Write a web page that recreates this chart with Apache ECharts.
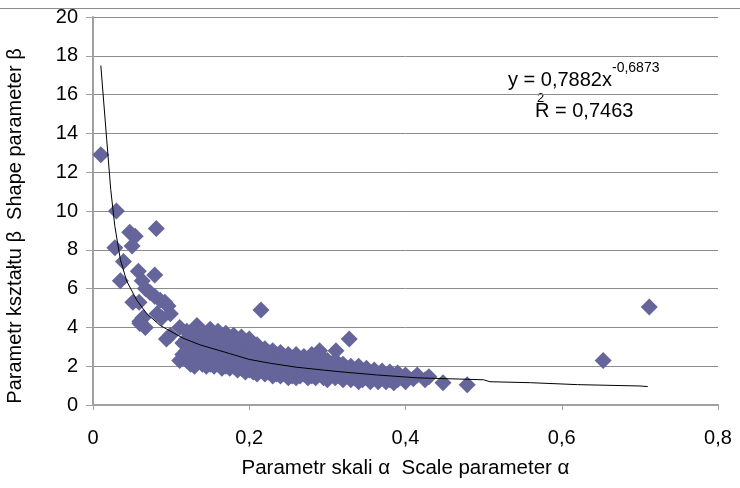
<!DOCTYPE html>
<html>
<head>
<meta charset="utf-8">
<script src="https://cdn.jsdelivr.net/npm/echarts@6/dist/echarts.min.js"></script>
<style>
  html, body { margin: 0; padding: 0; background: #fff; }
  #chart { width: 740px; height: 488px; }
</style>
</head>
<body>
<div id="chart"></div>
<script>
// punkty (alfa, beta)
let points = [
  [0.010,12.9],[0.030,10.0],[0.081,9.1],[0.047,8.9],[0.054,8.7],[0.050,8.2],[0.028,8.1],
  [0.039,7.4],[0.035,6.4],[0.058,6.9],[0.079,6.7],[0.063,6.4],[0.067,6.0],[0.073,5.8],
  [0.051,5.3],[0.059,5.3],[0.092,5.3],[0.086,5.4],[0.079,5.6],[0.099,4.7],[0.060,4.3],
  [0.067,4.0],[0.088,4.5],[0.064,4.5],[0.099,3.6],[0.111,2.3],[0.111,4.0],[0.133,4.1],
  [0.096,5.1],[0.082,4.7],[0.094,3.4],[0.060,4.2],
  [0.115,3.2],[0.115,2.6],
  [0.12,3.8],[0.12,3.4],[0.12,2.8],[0.12,2.3],
  [0.125,3.6],[0.125,3.0],[0.125,2.1],
  [0.13,3.9],[0.13,3.3],[0.13,2.5],[0.13,2.0],
  [0.135,3.7],[0.135,2.9],[0.135,2.3],
  [0.14,3.8],[0.14,3.2],[0.14,2.7],[0.14,2.1],
  [0.145,3.5],[0.145,2.9],[0.145,2.4],[0.145,2.0],
  [0.15,3.9],[0.15,3.3],[0.15,2.6],[0.15,2.1],
  [0.155,3.6],[0.155,3.0],[0.155,2.4],[0.155,2.0],
  [0.16,3.8],[0.16,3.2],[0.16,2.7],[0.16,2.2],
  [0.165,3.5],[0.165,2.9],[0.165,2.3],[0.165,1.9],
  [0.17,3.7],[0.17,3.1],[0.17,2.6],[0.17,2.0],
  [0.175,3.4],[0.175,2.8],[0.175,2.2],[0.175,1.9],
  [0.18,3.6],[0.18,3.0],[0.18,2.5],[0.18,2.0],
  [0.185,3.3],[0.185,2.7],[0.185,2.1],[0.185,1.8],
  [0.19,3.5],[0.19,2.9],[0.19,2.4],[0.19,1.9],
  [0.195,3.2],[0.195,2.6],[0.195,2.0],[0.195,1.7],
  [0.20,3.4],[0.20,2.8],[0.20,2.3],[0.20,1.8],
  [0.205,3.0],[0.205,2.5],[0.205,2.0],[0.205,1.7],
  [0.21,3.1],[0.21,2.6],[0.21,2.1],[0.21,1.6],
  [0.215,4.9],[0.215,2.8],[0.215,2.3],[0.215,1.8],
  [0.22,2.9],[0.22,2.5],[0.22,2.0],[0.22,1.6],
  [0.225,2.7],[0.225,2.2],[0.225,1.7],
  [0.23,2.8],[0.23,2.4],[0.23,1.9],[0.23,1.5],
  [0.235,2.6],[0.235,2.1],[0.235,1.6],
  [0.24,2.7],[0.24,2.3],[0.24,1.8],[0.24,1.5],
  [0.245,2.5],[0.245,2.0],[0.245,1.6],
  [0.25,2.6],[0.25,2.2],[0.25,1.8],[0.25,1.4],
  [0.255,2.4],[0.255,1.9],[0.255,1.5],
  [0.26,2.6],[0.26,2.1],[0.26,1.7],[0.26,1.4],
  [0.265,2.3],[0.265,1.9],[0.265,1.5],
  [0.27,2.5],[0.27,2.0],[0.27,1.6],
  [0.275,2.2],[0.275,1.8],[0.275,1.4],
  [0.28,2.6],[0.28,2.0],[0.28,1.5],
  [0.285,2.3],[0.285,1.8],[0.285,1.4],
  [0.29,2.8],[0.29,2.2],[0.29,1.6],
  [0.295,2.4],[0.295,1.9],[0.295,1.4],
  [0.30,2.3],[0.30,1.7],[0.30,1.3],
  [0.305,2.1],[0.305,1.6],
  [0.311,2.8],[0.31,2.3],[0.31,1.8],[0.31,1.4],
  [0.315,2.0],[0.315,1.5],
  [0.32,2.1],[0.32,1.7],[0.32,1.3],
  [0.328,3.4],[0.325,1.9],[0.325,1.5],
  [0.33,2.0],[0.33,1.6],[0.33,1.3],
  [0.335,1.8],[0.335,1.4],
  [0.34,2.0],[0.34,1.5],[0.34,1.2],
  [0.345,1.7],[0.345,1.3],
  [0.35,1.9],[0.35,1.5],
  [0.355,1.6],[0.355,1.2],
  [0.36,1.8],[0.36,1.4],
  [0.365,1.6],[0.365,1.2],
  [0.37,1.75],[0.37,1.4],
  [0.375,1.5],[0.375,1.2],
  [0.38,1.7],[0.38,1.3],
  [0.385,1.5],[0.385,1.15],
  [0.39,1.65],[0.39,1.3],
  [0.395,1.4],[0.40,1.55],[0.40,1.2],
  [0.41,1.35],[0.415,1.55],[0.425,1.3],[0.43,1.45],
  [0.448,1.15],[0.479,1.05],[0.653,2.3],[0.712,5.05]
];

// linia trendu (potęgowa)
let trendX = [0.010,0.0175,0.0227,0.028,0.035,0.043,0.056,0.069,0.086,0.115,0.137,0.175,0.20,0.227,0.26,0.295,0.32,0.363,0.415,0.50,0.508,0.56,0.62,0.70,0.71];
let trendY = [17.5,13.7,11.1,9.2,7.5,6.4,5.4,4.7,4.1,3.45,3.1,2.65,2.35,2.15,1.95,1.8,1.7,1.55,1.4,1.3,1.2,1.15,1.05,0.98,0.95];

let xTicks = [0, 0.2, 0.4, 0.6, 0.8];
let yTicks = [0, 2, 4, 6, 8, 10, 12, 14, 16, 18, 20];

let eqMain = "y = 0,7882x";
let eqExp = "-0,6873";
let r2Text = "R = 0,7463";

let font = "Liberation Sans, Arial, sans-serif";

let trend = [];
for (let i = 0; i < trendX.length; i++) {
    trend.push([trendX[i], trendY[i]]);
}

var myChart = echarts.init(document.getElementById("chart"), null, {renderer: "canvas"});

var option = {
    animation: false,
    backgroundColor: "#fff",
    grid: {
        left: 93,
        right: 22,
        top: 17,
        bottom: 83,
        containLabel: false,
        outerBoundsMode: "none"
    },
    xAxis: {
        type: "value",
        min: xTicks[0],
        max: xTicks[xTicks.length - 1],
        interval: 0.2,
        axisLine: { show: true, lineStyle: { color: "#a0a0a0", width: 2 } },
        axisTick: { show: true, inside: false, length: 5, lineStyle: { color: "#a0a0a0" } },
        splitLine: { show: false },
        axisLabel: {
            margin: 23,
            color: "#000",
            fontSize: 20,
            fontFamily: font,
            formatter: function (v) { return String(Math.round(v * 10) / 10).replace(".", ","); }
        },
        name: "Parametr skali α  Scale parameter α",
        nameLocation: "middle",
        nameGap: 53,
        nameTextStyle: { color: "#000", fontSize: 20.5, fontFamily: font }
    },
    yAxis: {
        type: "value",
        min: yTicks[0],
        max: yTicks[yTicks.length - 1],
        interval: 2,
        axisLine: { show: true, lineStyle: { color: "#a0a0a0", width: 2 } },
        axisTick: { show: true, inside: false, length: 7, lineStyle: { color: "#a0a0a0" } },
        splitLine: { show: true, lineStyle: { color: "#8c8c8c", width: 1 } },
        axisLabel: {
            margin: 15,
            color: "#000",
            fontSize: 20,
            fontFamily: font
        }
    },
    graphic: [
        {
            type: "line",
            shape: { x1: 0, y1: 8.5, x2: 740, y2: 8.5 },
            style: { stroke: "#8c8c8c", lineWidth: 1 }
        },
        {
            type: "text",
            x: 15,
            y: 226,
            rotation: Math.PI / 2,
            style: {
                text: "Parametr kształtu β  Shape parameter β",
                fill: "#000",
                font: "20px " + font,
                align: "center",
                verticalAlign: "middle"
            }
        },
        {
            type: "text",
            x: 508,
            y: 80,
            style: { text: eqMain, fill: "#000", font: "20px " + font, align: "left", verticalAlign: "middle" }
        },
        {
            type: "text",
            x: 612,
            y: 68,
            style: { text: eqExp, fill: "#000", font: "14px " + font, align: "left", verticalAlign: "middle" }
        },
        {
            type: "text",
            x: 535,
            y: 111,
            style: { text: r2Text, fill: "#000", font: "20px " + font, align: "left", verticalAlign: "middle" }
        },
        {
            type: "text",
            x: 537,
            y: 98,
            style: { text: "2", fill: "#000", font: "13px " + font, align: "left", verticalAlign: "middle" }
        }
    ],
    series: [{
        type: "scatter",
        data: points,
        symbol: "diamond",
        symbolSize: 17,
        itemStyle: { color: "#65659b", opacity: 1 },
        z: 2
    }, {
        type: "line",
        data: trend,
        showSymbol: false,
        symbol: "none",
        smooth: false,
        lineStyle: { color: "#000", width: 1 },
        z: 3
    }]
};

myChart.setOption(option);
</script>
</body>
</html>
